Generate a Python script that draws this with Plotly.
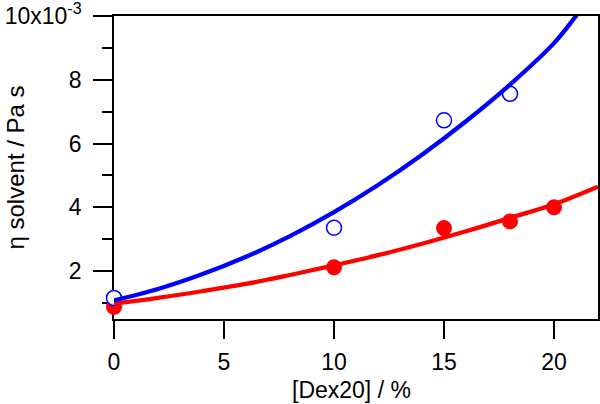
import plotly.graph_objects as go

# measured data (viscosity in Pa s)
dex_open = [0, 10, 15, 18]
eta_open = [1.16e-3, 3.36e-3, 6.73e-3, 7.56e-3]

dex_filled = [0, 10, 15, 18, 20]
eta_filled = [0.88e-3, 2.12e-3, 3.35e-3, 3.56e-3, 4.00e-3]

# fitted curves
fit_x_blue = [0, 2, 4, 6, 8, 10, 12, 14, 16, 18, 20, 21, 22]
fit_y_blue = [1.08e-3, 1.44e-3, 1.90e-3, 2.45e-3, 3.10e-3, 3.85e-3, 4.70e-3,
              5.65e-3, 6.70e-3, 7.85e-3, 9.15e-3, 10.0e-3, 10.9e-3]

fit_x_red = [0, 2, 4, 6, 8, 10, 12, 14, 16, 18, 20, 22]
fit_y_red = [0.98e-3, 1.16e-3, 1.37e-3, 1.60e-3, 1.88e-3, 2.18e-3, 2.50e-3,
             2.86e-3, 3.25e-3, 3.67e-3, 4.10e-3, 4.65e-3]

x_ticks = [0, 5, 10, 15, 20]
y_ticks = [2e-3, 4e-3, 6e-3, 8e-3, 10e-3]
y_tick_text = ["2", "4", "6", "8", "10x10<sup>-3</sup>"]
y_minor = [1e-3, 3e-3, 5e-3, 7e-3, 9e-3]

BLUE = "#0000FF"
RED = "#FF0000"

fig = go.Figure()
fig.add_trace(go.Scatter(x=dex_filled, y=eta_filled, mode="markers",
                         marker=dict(symbol="circle", size=16, color=RED,
                                     line=dict(width=0)),
                         cliponaxis=False, showlegend=False))
fig.add_trace(go.Scatter(x=dex_open, y=eta_open, mode="markers",
                         marker=dict(symbol="circle", size=15, color="white",
                                     line=dict(width=1.5, color=BLUE)),
                         cliponaxis=False, showlegend=False))
fig.add_trace(go.Scatter(x=fit_x_red, y=fit_y_red, mode="lines",
                         line=dict(color=RED, width=4.3, shape="spline"),
                         showlegend=False))
fig.add_trace(go.Scatter(x=fit_x_blue, y=fit_y_blue, mode="lines",
                         line=dict(color=BLUE, width=4.3, shape="spline"),
                         showlegend=False))

font = dict(family="Liberation Sans, Arial, Helvetica, sans-serif", size=23, color="black")
ytitle_font = dict(family="Liberation Sans, Arial, Helvetica, sans-serif", size=24, color="black")

fig.update_layout(
    width=600, height=404,
    margin=dict(l=114, r=2, t=16, b=85),
    paper_bgcolor="white", plot_bgcolor="white",
    font=font,
    xaxis=dict(range=[0, 22], tickvals=x_ticks, ticks="outside", ticklen=18,
               tickwidth=1.5, tickcolor="black", showline=True, linecolor="black",
               linewidth=1.5, mirror=True, showgrid=False, zeroline=False,
               layer="below traces", ticklabelstandoff=4, automargin=False,
               ticklabeloverflow="allow"),
    yaxis=dict(range=[0.5e-3, 10e-3], tickvals=y_ticks, ticktext=y_tick_text,
               ticks="outside", ticklen=19, tickwidth=1.5, tickcolor="black",
               showline=True, linecolor="black", linewidth=1.5, mirror=True,
               showgrid=False, zeroline=False, layer="below traces",
               ticklabelstandoff=7, automargin=False, ticklabeloverflow="allow",
               minor=dict(tickvals=y_minor, ticks="outside", ticklen=10,
                          tickwidth=1.5, tickcolor="black", showgrid=False)),
    annotations=[
        dict(text="[Dex20] / %", xref="paper", yref="paper", x=0.49, y=-0.234,
             xanchor="center", yanchor="middle", showarrow=False, font=font),
        dict(text="η solvent / Pa s", xref="paper", yref="paper", x=-0.2025, y=0.5,
             xanchor="center", yanchor="middle", textangle=-90, showarrow=False,
             font=ytitle_font),
    ],
)

fig.write_html("out.html", config={"displayModeBar": False},
               post_script="document.body.style.margin='0';document.body.style.overflow='hidden';")
